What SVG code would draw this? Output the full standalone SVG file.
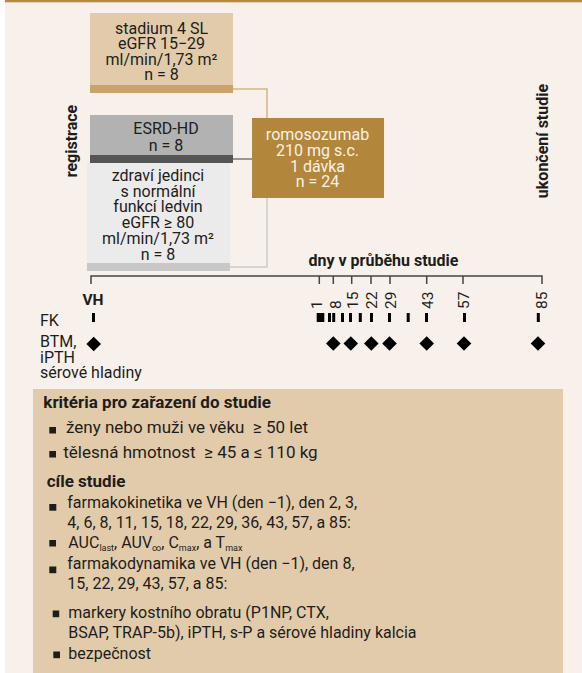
<svg xmlns="http://www.w3.org/2000/svg" width="582" height="673" viewBox="0 0 582 673">
<style>
text{font-family:Roboto,"Liberation Sans",sans-serif;font-size:16px;fill:#1d1d1b}
.c{text-anchor:middle}
.b{font-weight:bold}
.w{fill:#f8f0e4}
.d{font-size:15.5px}
.h{font-size:17px;font-weight:bold}
.l{font-size:17px}
.pre{white-space:pre}
.sub{font-size:9px}
.con{fill:none;stroke-width:1.5}
.tl{fill:none;stroke:#444;stroke-width:1.5}
</style>
<defs>
<path id="dia" d="M0,-7.3 L7.3,0 L0,7.3 L-7.3,0 Z" fill="#000"/>
<rect id="fkm" x="-1.5" y="313" width="3" height="9" fill="#000"/>
</defs>
<rect x="5" y="0" width="577" height="673" fill="#f8f0ea"/>
<rect x="5" y="0" width="577" height="2.3" fill="#b78a3e"/>

<g id="connectors">
<path class="con" stroke="#d5b57f" d="M233,89 H267 V118"/>
<path class="con" stroke="#7a7a7a" d="M233,159 H252"/>
<path class="con" stroke="#cccccc" d="M230,267 H267 V198"/>
</g>

<g id="stadium4">
<rect x="90" y="13" width="143" height="80" fill="#e2cbaa"/>
<rect x="90" y="85" width="143" height="8" fill="#c9a36b"/>
<text class="c" x="161.5" y="33.5">stadium 4 SL</text>
<text class="c" x="161.5" y="49">eGFR 15−29</text>
<text class="c" x="161.5" y="64.5">ml/min/1,73 m²</text>
<text class="c" x="161.5" y="80">n = 8</text>
</g>

<g id="esrd">
<rect x="90" y="115" width="143" height="48" fill="#b2b2b2"/>
<rect x="90" y="155" width="143" height="8" fill="#555555"/>
<text class="c" x="166" y="134">ESRD-HD</text>
<text class="c" x="166" y="151">n = 8</text>
</g>

<g id="zdravi">
<rect x="87" y="163" width="143" height="108" fill="#ebebeb"/>
<rect x="87" y="263" width="143" height="8" fill="#c8c8c8"/>
<text class="c" x="158" y="181">zdraví jedinci</text>
<text class="c" x="158" y="196.7">s normální</text>
<text class="c" x="158" y="212.3">funkcí ledvin</text>
<text class="c" x="158" y="228.3">eGFR ≥ 80</text>
<text class="c" x="158" y="244.3">ml/min/1,73 m²</text>
<text class="c" x="158" y="260">n = 8</text>
</g>

<g id="romosozumab">
<rect x="252" y="118" width="132" height="80" fill="#b3873b"/>
<text class="c w" x="317.5" y="140">romosozumab</text>
<text class="c w" x="317.5" y="156">210 mg s.c.</text>
<text class="c w" x="317.5" y="172">1 dávka</text>
<text class="c w" x="317.5" y="187">n = 24</text>
</g>

<g id="registrace">
<text class="b c" transform="translate(76.5,141) rotate(-90)">registrace</text>
</g>
<g id="ukonceni">
<text class="b c" transform="translate(547.5,141) rotate(-90)">ukončení studie</text>
</g>

<g id="timeline">
<text class="b c" x="383.5" y="266">dny v průběhu studie</text>
<path class="tl" d="M91,284 V276 H542 V284 M319.3,276 V284 M333.3,276 V284 M351.7,276 V284 M371,276 V284 M390,276 V284 M426.7,276 V284 M463,276 V284"/>
<text class="b c" x="93" y="305" style="font-size:15.5px">VH</text>
<text class="d" transform="translate(321.7,309) rotate(-90)">1</text>
<text class="d" transform="translate(340.7,309) rotate(-90)">8</text>
<text class="d" transform="translate(358.3,309) rotate(-90)">15</text>
<text class="d" transform="translate(377.3,309) rotate(-90)">22</text>
<text class="d" transform="translate(396,309) rotate(-90)">29</text>
<text class="d" transform="translate(433.3,309) rotate(-90)">43</text>
<text class="d" transform="translate(469.3,309) rotate(-90)">57</text>
<text class="d" transform="translate(547.3,309) rotate(-90)">85</text>
</g>

<g id="fk">
<text x="40" y="326">FK</text>
<use href="#fkm" x="93.5"/>
<rect x="316.7" y="313" width="7.6" height="9" fill="#000"/>
<use href="#fkm" x="329.5"/>
<use href="#fkm" x="333.7"/>
<use href="#fkm" x="342.5"/>
<use href="#fkm" x="350.5"/>
<use href="#fkm" x="360.3"/>
<use href="#fkm" x="371.5"/>
<use href="#fkm" x="389.5"/>
<use href="#fkm" x="408.2"/>
<use href="#fkm" x="426.5"/>
<use href="#fkm" x="464.5"/>
<use href="#fkm" x="538.3"/>
</g>

<g id="btm">
<text x="40" y="347">BTM,</text>
<text x="40" y="362.5">iPTH</text>
<text x="40" y="378">sérové hladiny</text>
<use href="#dia" x="93.7" y="344"/>
<use href="#dia" x="333.3" y="343.5"/>
<use href="#dia" x="350.8" y="343.5"/>
<use href="#dia" x="371.3" y="343.5"/>
<use href="#dia" x="389.5" y="343.5"/>
<use href="#dia" x="426.7" y="343.5"/>
<use href="#dia" x="464" y="343.5"/>
<use href="#dia" x="538" y="343.5"/>
</g>

<g id="kriteria">
<rect x="33" y="389" width="530" height="284" fill="#e2cbaa"/>
<text class="h" x="43.3" y="408">kritéria pro zařazení do studie</text>
<rect x="49.3" y="427" width="6.7" height="6.5" fill="#1d1d1b"/>
<text class="pre l" x="66" y="433">ženy nebo muži ve věku  ≥ 50 let</text>
<rect x="49.3" y="451" width="6.7" height="6.5" fill="#1d1d1b"/>
<text class="pre l" x="63.3" y="458">tělesná hmotnost  ≥ 45 a ≤ 110 kg</text>
<text class="h" x="46.7" y="487">cíle studie</text>
<rect x="49.3" y="504" width="7" height="6.7" fill="#1d1d1b"/>
<text x="67.3" y="508">farmakokinetika ve VH (den −1), den 2, 3,</text>
<text x="67.3" y="528.3">4, 6, 8, 11, 15, 18, 22, 29, 36, 43, 57, a 85:</text>
<rect x="49.3" y="540" width="6.7" height="6.5" fill="#1d1d1b"/>
<text x="68.3" y="548.3">AUC<tspan class="sub" dy="3">last</tspan><tspan dy="-3">, AUV</tspan><tspan class="sub" dy="3">∞</tspan><tspan dy="-3">, C</tspan><tspan class="sub" dy="3">max</tspan><tspan dy="-3">, a T</tspan><tspan class="sub" dy="3">max</tspan></text>
<rect x="49.3" y="566.5" width="7" height="6.7" fill="#1d1d1b"/>
<text x="67.3" y="569">farmakodynamika ve VH (den −1), den 8,</text>
<text x="67.3" y="589.3">15, 22, 29, 43, 57, a 85:</text>
<rect x="52.7" y="610.5" width="6.5" height="6.7" fill="#1d1d1b"/>
<text x="68.3" y="617.5">markery kostního obratu (P1NP, CTX,</text>
<text x="68.3" y="637.5">BSAP, TRAP-5b), iPTH, s-P a sérové hladiny kalcia</text>
<rect x="53.3" y="651.5" width="6.7" height="6.7" fill="#1d1d1b"/>
<text x="68.3" y="658.5">bezpečnost</text>
</g>
</svg>
